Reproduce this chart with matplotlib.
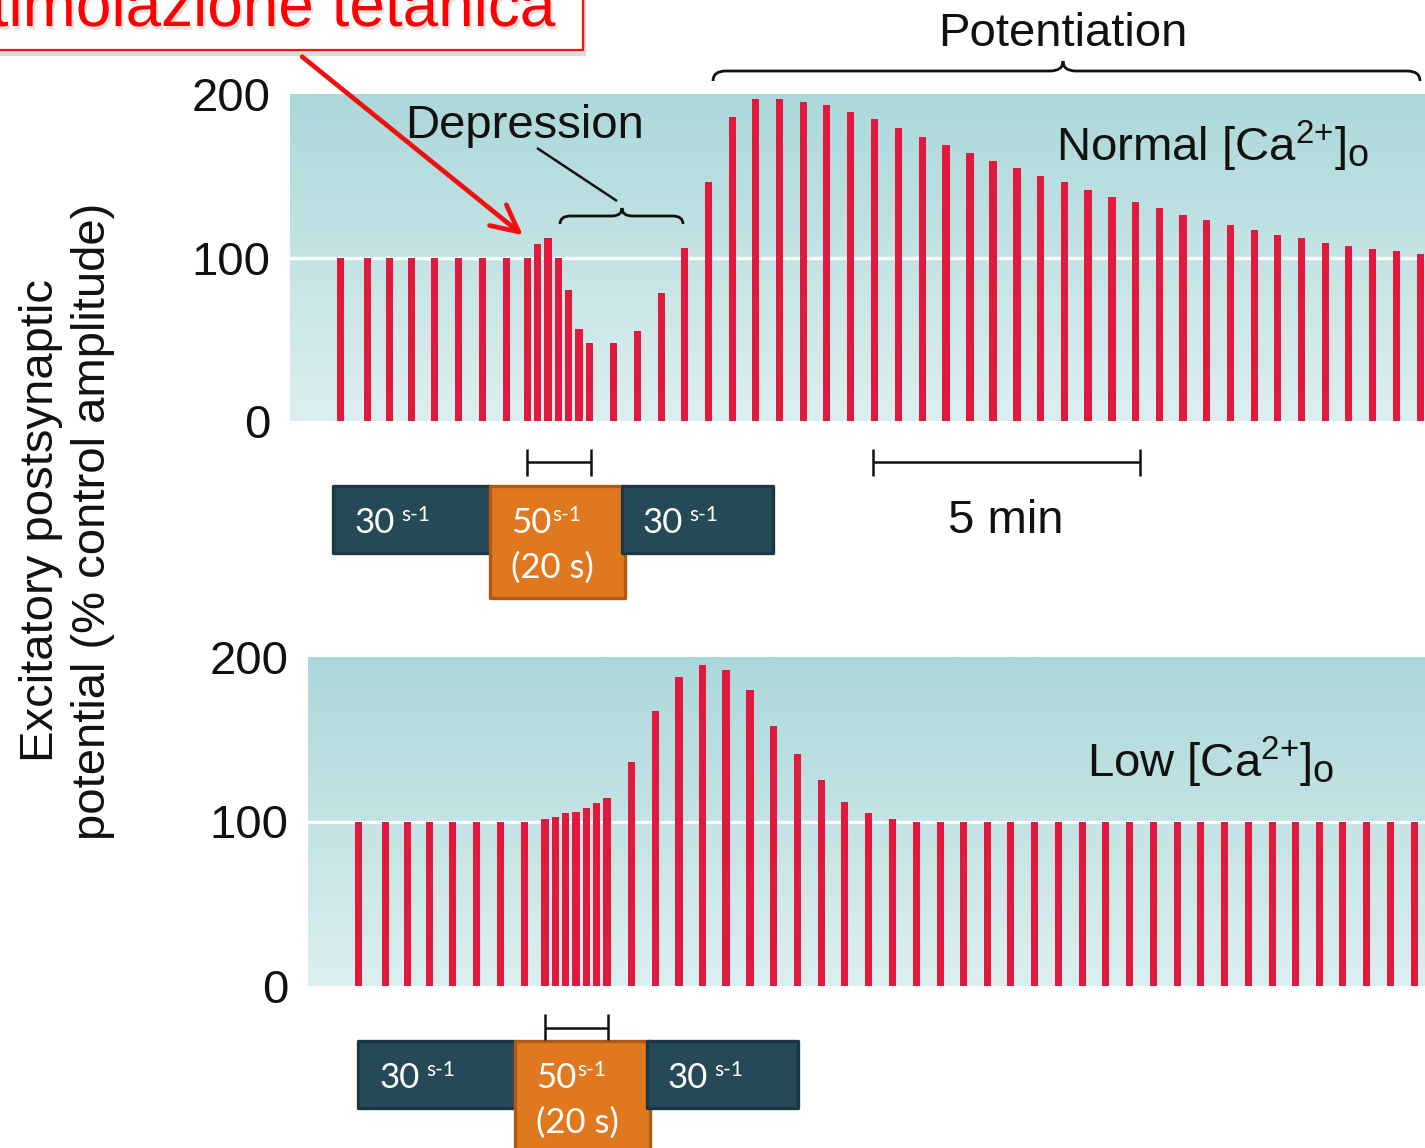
"""
Tetanic stimulation: depression / potentiation of EPSP amplitude
in normal vs low extracellular Ca2+.
"""
import numpy as np
import matplotlib
matplotlib.use("Agg")
import matplotlib.pyplot as plt
import matplotlib.patheffects as pe
from matplotlib.colors import LinearSegmentedColormap
from matplotlib.patches import Rectangle, FancyArrowPatch, PathPatch
from matplotlib.path import Path
from matplotlib.transforms import Affine2D

# ── Data ──────────────────────────────────────────────────────────────────────
# stimulus times (min from start of the trace), shared by both panels
stim_times = [0.95, 1.45, 1.87, 2.28, 2.70, 3.15, 3.60, 4.05, 4.44, 4.64,
              4.83, 5.02, 5.21, 5.41, 5.60, 6.06, 6.51, 6.95, 7.39, 7.83,
              8.28, 8.72, 9.17, 9.61, 10.05, 10.50, 10.94, 11.39, 11.84, 12.28,
              12.73, 13.16, 13.61, 14.05, 14.50, 14.94, 15.39, 15.83, 16.28, 16.72,
              17.16, 17.61, 18.06, 18.49, 18.94, 19.38, 19.82, 20.27, 20.72, 21.16]

# EPSP amplitude, % of control
normal_ca = [100, 100, 100, 100, 100, 100, 100, 100, 100, 108,
             112, 100, 80, 56, 48, 48, 55, 78, 106, 146,
             186, 197, 197, 195, 193, 189, 185, 179, 174, 169,
             164, 159, 155, 150, 146, 141, 137, 134, 130, 126,
             123, 120, 117, 114, 112, 109, 107, 105, 104, 102]

low_ca = [100, 100, 100, 100, 100, 100, 100, 100, 101.5, 103,
          105, 106, 108, 111, 114, 136, 167, 188, 195, 192,
          180, 158, 141, 125, 112, 105, 101.5, 100, 100, 100,
          100, 100, 100, 100, 100, 100, 100, 100, 100, 100,
          100, 100, 100, 100, 100, 100, 100, 100, 100]

ytick_values = [0, 100, 200]
ytick_labels = ["0", "100", "200"]

# ── Style ─────────────────────────────────────────────────────────────────────
W, H, DPI = 1425, 1148, 100
plt.rcParams.update({
    "font.family":      ["Liberation Sans", "DejaVu Sans"],
    "mathtext.fontset": "custom",
    "mathtext.rm":      "Liberation Sans",
    "mathtext.it":      "Liberation Sans:italic",
    "mathtext.bf":      "Liberation Sans:bold",
})

BAR_COLOR = "#e1193d"
BAR_W     = 0.135
BG_CMAP   = LinearSegmentedColormap.from_list("bg", ["#dceff0", "#c4e3e4", "#acd8db"])
TXT       = "#111111"
FS        = 34
DARK, DARK_EDGE = "#254957", "#1b3842"
ORANGE, ORANGE_EDGE = "#e07820", "#b25816"
BOX_FONT = ["Lato", "DejaVu Sans"]

fig = plt.figure(figsize=(W / DPI, H / DPI), dpi=DPI)
# pixel coordinates measured from the top-left corner of the figure
PX = Affine2D().scale(1 / W, -1 / H).translate(0, 1) + fig.transFigure


def draw_panel(ax, times, amps, xmax):
    grad = np.linspace(0, 1, 256).reshape(-1, 1)
    ax.imshow(grad, cmap=BG_CMAP, origin="lower", aspect="auto",
              extent=[0, xmax, 0, 200], zorder=0)
    ax.axhline(100, color="white", lw=2.4, zorder=1)
    ax.bar(times, amps, width=BAR_W, color=BAR_COLOR, linewidth=0, zorder=2)
    ax.set_xlim(0, xmax)
    ax.set_ylim(0, 200)
    ax.set_yticks(ytick_values, ytick_labels, fontsize=FS, color=TXT)
    ax.tick_params(axis="y", length=0, pad=14)
    ax.set_xticks([])
    for s in ax.spines.values():
        s.set_visible(False)


def ca_label(ax, x, y, prefix):
    """'<prefix> [Ca2+]o' with a large, lowered 'o' as in the original figure."""
    t = ax.text(x, y, prefix + r" [Ca$^{2{+}}$]", transform=ax.transAxes,
                fontsize=FS, color=TXT, va="baseline")
    ax.annotate("o", xy=(1, 0), xycoords=t, xytext=(1, 0),
                textcoords="offset points", fontsize=FS * 0.8, color=TXT,
                va="bottom", ha="left")


def brace(x0, x1, y, d, xm=None, lw=2.0):
    xm = (x0 + x1) / 2 if xm is None else xm
    r = d * 1.3
    verts = [(x0, y + d), (x0, y), (x0 + r, y), (xm - r, y), (xm, y), (xm, y - d),
             (xm, y), (xm + r, y), (x1 - r, y), (x1, y), (x1, y + d)]
    codes = [Path.MOVETO, Path.CURVE3, Path.CURVE3, Path.LINETO, Path.CURVE3,
             Path.CURVE3, Path.CURVE3, Path.CURVE3, Path.LINETO, Path.CURVE3,
             Path.CURVE3]
    fig.add_artist(PathPatch(Path(verts, codes), transform=PX, fc="none",
                             ec=TXT, lw=lw, clip_on=False))


def line(xs, ys, lw=1.8, color=TXT):
    fig.add_artist(plt.Line2D(xs, ys, transform=PX, color=color, lw=lw,
                              solid_capstyle="butt"))


def scale_bar(x0, x1, y, tick_top, tick_bot):
    line([x0, x1], [y, y])
    line([x0, x0], [tick_top, tick_bot])
    line([x1, x1], [tick_top, tick_bot])


def rate_boxes(x, y):
    """three stimulation-rate boxes; x = left edge of first box, y = top."""
    boxes = [(x, 157, 67, DARK, DARK_EDGE),
             (x + 157, 135, 112, ORANGE, ORANGE_EDGE),
             (x + 289, 151, 67, DARK, DARK_EDGE)]
    for bx, bw, bh, fc, ec in boxes:
        fig.add_artist(Rectangle((bx, y), bw, bh, transform=PX, fc=fc, ec=ec,
                                 lw=2.4, joinstyle="round", clip_on=False))
    for bx, num, off in [(x + 22, "30", 46), (x + 178, "50", 41), (x + 310, "30", 46)]:
        fig.text(bx, y + 47, num, transform=PX, color="white", fontsize=25,
                 family=BOX_FONT, va="baseline")
        fig.text(bx + off, y + 35, "s-1", transform=PX, color="white",
                 fontsize=15, family=BOX_FONT, va="baseline")
    fig.text(x + 178, y + 92, "(20 s)", transform=PX, color="white",
             fontsize=25, family=BOX_FONT, va="baseline")


# ── Panels ────────────────────────────────────────────────────────────────────
ax_top = fig.add_axes([290 / W, 1 - 421 / H, (1425 - 290) / W, (421 - 94) / H])
draw_panel(ax_top, stim_times, normal_ca, 21.25)

ax_bot = fig.add_axes([308 / W, 1 - 986 / H, (1425 - 308) / W, (986 - 657) / H])
draw_panel(ax_bot, stim_times[:len(low_ca)], low_ca, 20.92)

ca_label(ax_top, 0.675, 0.795, "Normal")
ca_label(ax_bot, 0.697, 0.635, "Low")

# y label
fig.text(67, 521, "Excitatory postsynaptic\npotential (% control amplitude)",
         transform=PX, rotation=90, ha="center", va="center",
         multialignment="center", linespacing=1.25, fontsize=FS, color=TXT)

# ── Annotations ───────────────────────────────────────────────────────────────
fig.text(1063, 46, "Potentiation", transform=PX, ha="center", va="baseline",
         fontsize=FS, color=TXT)
brace(713, 1420, 71, 10, xm=1063)

fig.text(405, 138, "Depression", transform=PX, ha="left", va="baseline",
         fontsize=FS, color=TXT)
brace(560, 683, 216, 8, xm=622)
line([537, 617], [148, 201], lw=1.8)

scale_bar(527, 591, 462, 449, 476)
scale_bar(873, 1140, 462, 449, 476)
fig.text(1006, 533, "5 min", transform=PX, ha="center", va="baseline",
         fontsize=FS, color=TXT)
scale_bar(545, 608, 1028, 1014, 1040)

rate_boxes(333, 486)
rate_boxes(358, 1041)

# title box (cropped at the top-left corner)
fig.add_artist(Rectangle((-20, -20), 603, 70, transform=PX, fc="white",
                         ec="#ff1010", lw=1.6, clip_on=False,
                         path_effects=[pe.SimplePatchShadow(offset=(2, -4), alpha=0.2),
                                       pe.Normal()]))
fig.text(555, 26, "stimolazione tetanica", transform=PX, ha="right",
         va="baseline", fontsize=46, color="#ff0000",
         path_effects=[pe.withSimplePatchShadow(offset=(1.5, -2.5), alpha=0.12)])

fig.add_artist(FancyArrowPatch(posA=(300, 55), posB=(525, 237), transform=PX,
                               arrowstyle="->", mutation_scale=48,
                               color="#f01010", lw=3.4, clip_on=False))

fig.savefig("out.png", dpi=DPI)
